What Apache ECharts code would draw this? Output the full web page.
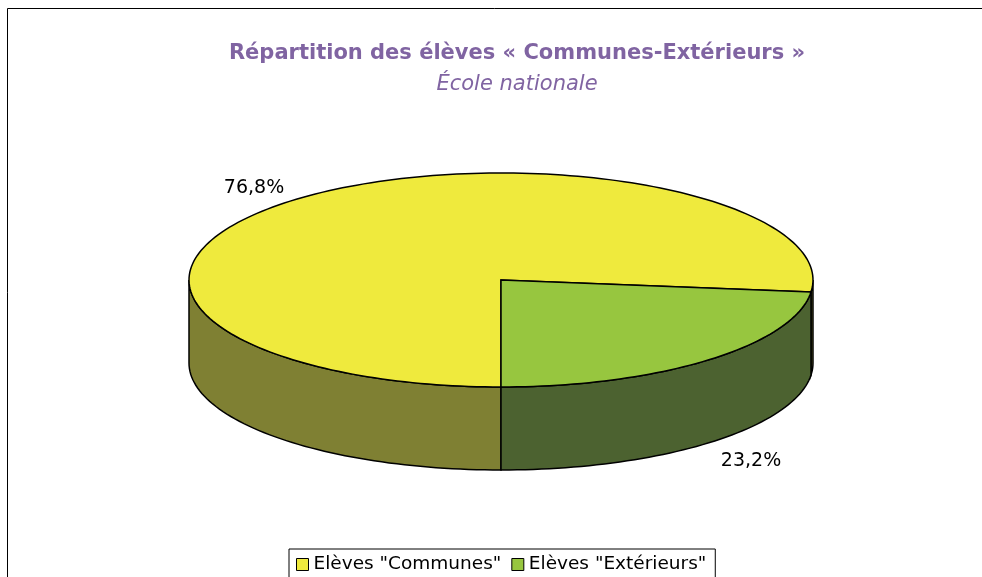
<!DOCTYPE html>
<html>
<head>
<meta charset="utf-8">
<style>
  html, body { margin: 0; padding: 0; background: #fff; overflow: hidden; }
  #chart { width: 982px; height: 577px; }
</style>
<script src="https://cdn.jsdelivr.net/npm/echarts@6/dist/echarts.min.js"></script>
</head>
<body>
<div id="chart"></div>
<script>
const categories = ['Elèves "Communes"', 'Elèves "Extérieurs"']
const shares = [76.8, 23.2]

const topColors = ['#EFEA3D', '#97C63F']
const wallColors = ['#7F8033', '#4C6230']
const purple = '#8064A2'
const FONT = '"DejaVu Sans", Verdana, sans-serif'

// Pie geometry: flattened ellipse plus wall depth
const cx = 501
const cy = 280
const rx = 312
const ry = 107
const depth = 83
const firstAngle = 90 // bottom of the ellipse, going clockwise on screen

// Where each label sits, by category
const labelPos = [[254, 188.5], [751, 461.5]]

const total = shares.reduce((a, b) => a + b, 0)

function pt(deg, dy) {
  const t = deg * Math.PI / 180
  return [cx + rx * Math.cos(t), cy + ry * Math.sin(t) + (dy || 0)]
}

function arcPoints(from, to, dy) {
  const out = []
  const n = Math.max(2, Math.ceil(Math.abs(to - from) / 1.5))
  for (let i = 0; i <= n; i++) {
    out.push(pt(from + (to - from) * i / n, dy))
  }
  return out
}

// wall faces only show on the front half of the ellipse
function wallRanges(from, to) {
  const out = []
  for (let k = 0; k <= 1; k++) {
    const a = Math.max(from, k * 360)
    const b = Math.min(to, k * 360 + 180)
    if (b > a) out.push([a, b])
  }
  return out
}

function renderSlice(params, api) {
  const i = params.seriesIndex
  const before = shares.slice(0, i).reduce((a, b) => a + b, 0)
  const from = firstAngle + before / total * 360
  const to = from + api.value(0) / total * 360
  const lineStyle = { stroke: '#000', lineWidth: 1.5 }
  const children = []

  wallRanges(from, to).forEach(function (r) {
    const upper = arcPoints(r[0], r[1], 0)
    const lower = arcPoints(r[1], r[0], depth)
    children.push({
      type: 'polygon',
      shape: { points: upper.concat(lower) },
      style: Object.assign({ fill: wallColors[i] }, lineStyle)
    })
  })

  children.push({
    type: 'polygon',
    shape: { points: [[cx, cy]].concat(arcPoints(from, to, 0)) },
    style: Object.assign({ fill: topColors[i] }, lineStyle)
  })

  children.push({
    type: 'text',
    style: {
      x: labelPos[i][0],
      y: labelPos[i][1],
      text: api.value(0).toFixed(1).replace('.', ',') + '%',
      fill: '#000',
      font: '19px ' + FONT,
      align: 'center',
      verticalAlign: 'middle'
    }
  })

  return { type: 'group', children: children }
}

const option = {
  animation: false,
  backgroundColor: '#fff',
  title: {
    text: 'Répartition des élèves « Communes-Extérieurs »',
    subtext: 'École nationale',
    left: 512,
    top: 38,
    textAlign: 'center',
    itemGap: 10,
    textStyle: { color: purple, fontFamily: FONT, fontWeight: 'bold', fontSize: 21 },
    subtextStyle: { color: purple, fontFamily: FONT, fontStyle: 'italic', fontSize: 21 }
  },
  legend: {
    data: categories,
    left: 289,
    top: 549,
    orient: 'horizontal',
    icon: 'rect',
    itemWidth: 12,
    itemHeight: 12,
    itemGap: 10,
    padding: [6, 9, 12, 7],
    borderColor: '#000',
    borderWidth: 1,
    backgroundColor: '#fff',
    selectedMode: false,
    itemStyle: { borderColor: '#000', borderWidth: 1 },
    textStyle: { color: '#000', fontFamily: FONT, fontSize: 18.5 }
  },
  graphic: [
    {
      type: 'polyline',
      silent: true,
      shape: { points: [[7.5, 577], [7.5, 8.5], [982, 8.5]] },
      style: { stroke: '#000', fill: null, lineWidth: 1 }
    }
  ],
  series: categories.map(function (name, i) {
    return {
      name: name,
      type: 'custom',
      coordinateSystem: 'none',
      renderItem: renderSlice,
      itemStyle: { color: topColors[i] },
      data: [[shares[i]]]
    }
  })
}

const myChart = echarts.init(document.getElementById('chart'))
myChart.setOption(option)
</script>
</body>
</html>
